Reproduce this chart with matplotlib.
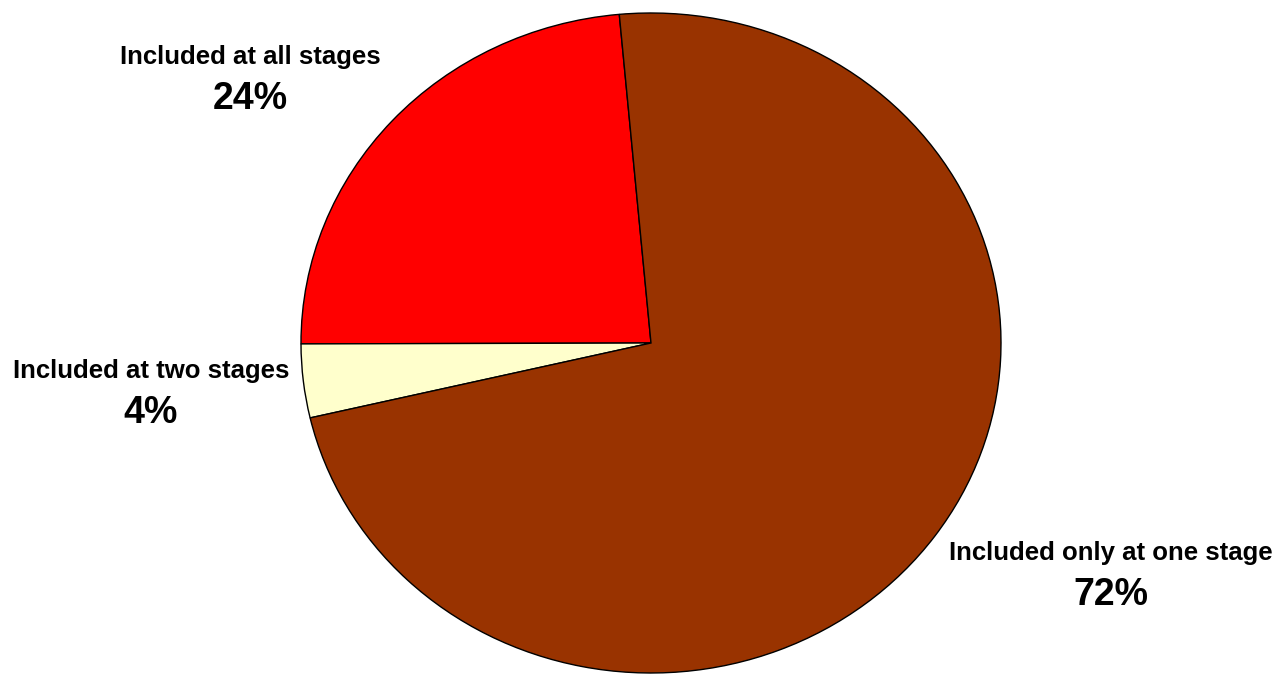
import matplotlib.pyplot as plt

# data
categories = ['Included at all stages', 'Included at two stages', 'Included only at one stage']
shares = [23.6, 3.6, 72.8]          # wedge sizes
pct_labels = ['24%', '4%', '72%']   # labels as printed
colours = ['#FF0000', '#FFFFCC', '#993300']

# label anchor points (pixel centres in the 1280x674 picture)
label_pos = [(250, 57), (151, 371), (1111, 553)]

W, H = 1280, 674
fig = plt.figure(figsize=(W / 100, H / 100), dpi=100)
fig.patch.set_facecolor('white')

# pie is slightly elliptical in the original: 700 px wide, 660 px tall
ax = fig.add_axes([301 / W, 1 / H, 700 / W, 660 / H])
ax.pie(shares, colors=colours, startangle=95.2, counterclock=True,
       wedgeprops=dict(edgecolor='black', linewidth=1.0))
ax.set_aspect('auto')
ax.set_xlim(-1, 1)
ax.set_ylim(-1, 1)

for name, pct, (px, py) in zip(categories, pct_labels, label_pos):
    fig.text(px / W, 1 - py / H, name, ha='center', va='center',
             fontsize=18.5, fontweight='bold', family='Liberation Sans')
    fig.text(px / W, 1 - (py + 42) / H, pct, ha='center', va='center',
             fontsize=27, fontweight='bold', family='Liberation Sans')

fig.savefig('out.png', dpi=100)
